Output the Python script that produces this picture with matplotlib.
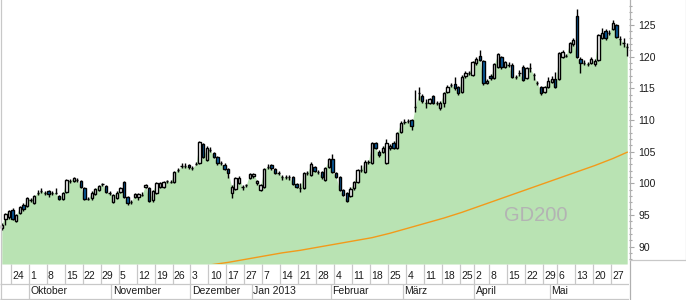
import numpy as np
import pandas as pd
import matplotlib
matplotlib.use('Agg')
import matplotlib.pyplot as plt
from matplotlib.lines import Line2D
from matplotlib.ticker import MultipleLocator

plt.rcParams['font.family'] = ['Liberation Sans', 'DejaVu Sans']

# ---------------- data ----------------
start_date = '2012-09-19'
end_date = '2013-05-31'
holidays = ['2012-12-24', '2012-12-25', '2012-12-26', '2012-12-31', '2013-01-01',
            '2013-03-29', '2013-04-01', '2013-05-01']

open_ = [92.9, 94.4, 94.7, 95.8, 94.0, 95.3, 96.6, 96.4, 97.4, 96.9,
         98.5, 98.8, 98.5, 98.8, 98.5, 98.5, 98.0, 97.5, 98.6, 100.4,
         100.4, 100.5, 100.4, 99.3, 97.5, 97.7, 98.3, 98.9, 99.9, 99.6,
         98.5, 97.0, 97.7, 98.6, 100.2, 97.8, 97.0, 97.8, 97.8, 98.1,
         99.4, 99.3, 97.4, 98.5, 99.4, 99.4, 100.4, 100.2, 100.2, 102.1,
         102.7, 102.7, 102.9, 102.4, 103.0, 103.2, 106.2, 103.7, 105.3, 104.8,
         104.1, 103.2, 102.9, 102.3, 98.5, 99.1, 100.0, 99.4, 99.7, 100.8,
         101.1, 100.0, 98.9, 99.4, 102.6, 102.9, 102.3, 101.6, 101.0, 101.0,
         101.0, 101.0, 99.9, 99.3, 99.3, 101.6, 101.3, 102.6, 101.8, 101.8,
         100.5, 102.6, 103.8, 101.6, 101.0, 98.9, 98.5, 98.0, 99.3, 100.2,
         102.1, 101.8, 103.4, 103.2, 106.4, 104.9, 104.9, 103.2, 105.6, 106.4,
         105.6, 108.1, 109.7, 109.8, 110.0, 112.0, 114.3, 113.8, 112.7, 112.7,
         113.8, 112.7, 111.9, 112.7, 114.4, 115.5, 115.7, 115.2, 114.4, 116.9,
         117.4, 117.1, 119.0, 120.1, 119.3, 115.8, 116.9, 116.6, 118.4, 119.9,
         118.4, 118.7, 118.7, 116.8, 117.4, 118.4, 116.6, 118.2, 117.1, 115.8,
         115.2, 114.4, 115.2, 116.0, 116.5, 116.5, 119.9, 120.1, 120.7, 122.0,
         126.4, 119.6, 119.0, 118.8, 119.0, 118.8, 119.5, 123.0, 124.1, 123.7,
         124.4, 125.0, 122.8, 122.2, 121.5]

high = [93.7, 95.3, 95.8, 96.1, 95.1, 96.4, 96.9, 97.8, 97.7, 98.1,
        98.9, 99.3, 98.8, 98.9, 98.8, 99.3, 98.1, 98.6, 100.7, 100.7,
        101.0, 100.8, 100.5, 99.4, 97.8, 98.8, 99.3, 99.7, 100.0, 99.7,
        98.8, 98.3, 98.8, 99.4, 100.4, 98.0, 97.4, 98.5, 98.5, 98.6,
        99.9, 99.4, 98.9, 100.2, 100.2, 100.4, 100.5, 100.5, 101.9, 102.4,
        103.2, 103.2, 103.0, 102.7, 103.4, 106.7, 106.4, 105.9, 105.7, 104.9,
        104.3, 103.5, 103.2, 102.4, 99.7, 101.0, 101.1, 99.7, 99.9, 101.6,
        101.6, 100.5, 99.9, 102.4, 103.0, 103.0, 102.4, 101.9, 101.3, 101.3,
        101.3, 101.1, 100.0, 100.0, 101.8, 101.9, 103.4, 102.7, 102.1, 101.9,
        102.6, 104.0, 104.6, 101.8, 101.1, 99.1, 98.6, 99.4, 100.4, 102.3,
        102.9, 103.7, 103.7, 106.5, 106.5, 105.3, 105.9, 107.0, 106.2, 106.7,
        108.1, 109.8, 110.2, 110.2, 110.2, 114.7, 115.2, 114.1, 113.3, 113.5,
        113.9, 113.0, 113.0, 114.4, 115.5, 115.8, 116.8, 115.4, 117.1, 117.7,
        117.7, 119.3, 120.0, 121.1, 119.5, 116.5, 117.3, 119.0, 120.6, 120.1,
        119.3, 119.2, 119.0, 117.1, 117.9, 118.7, 118.4, 119.0, 117.4, 116.2,
        115.4, 115.4, 116.8, 117.0, 117.6, 120.7, 121.1, 120.4, 122.3, 122.9,
        127.5, 119.9, 119.5, 119.2, 119.9, 119.6, 123.6, 124.5, 124.4, 124.2,
        125.8, 125.2, 123.3, 122.9, 122.2]

low = [92.6, 93.4, 94.4, 94.2, 93.9, 95.1, 95.6, 96.2, 97.0, 96.7,
       98.1, 98.5, 98.1, 97.8, 98.1, 98.3, 97.4, 97.4, 98.5, 100.0,
       100.2, 100.2, 99.3, 97.4, 97.4, 97.4, 98.1, 98.8, 99.6, 98.5,
       98.1, 96.9, 97.5, 98.5, 97.7, 96.6, 96.7, 97.7, 97.4, 98.0,
       99.3, 97.0, 97.0, 98.3, 99.3, 99.3, 100.0, 100.0, 100.0, 101.8,
       102.4, 102.4, 102.3, 102.1, 102.9, 103.0, 104.0, 103.5, 104.9, 104.0,
       102.9, 102.9, 102.1, 100.8, 97.7, 98.9, 99.9, 98.9, 99.4, 100.7,
       100.8, 99.7, 98.8, 99.3, 102.3, 102.1, 101.5, 101.3, 100.5, 100.7,
       100.5, 99.7, 99.3, 98.6, 99.1, 101.3, 101.1, 101.8, 101.5, 100.7,
       100.4, 102.4, 101.6, 100.8, 98.8, 98.0, 97.0, 97.8, 98.9, 100.0,
       101.8, 101.6, 103.0, 103.0, 105.4, 104.1, 104.8, 103.0, 105.3, 105.4,
       105.4, 107.9, 109.4, 109.5, 108.4, 111.3, 113.2, 112.7, 111.9, 112.5,
       112.5, 112.4, 111.6, 112.0, 114.3, 115.2, 114.7, 113.9, 114.3, 116.6,
       117.1, 116.9, 118.7, 119.3, 115.5, 115.7, 116.3, 116.5, 118.2, 118.1,
       118.2, 118.4, 116.6, 116.5, 116.9, 116.2, 116.5, 117.6, 116.3, 115.5,
       114.0, 114.3, 115.1, 115.8, 115.1, 116.3, 119.8, 119.9, 120.6, 121.7,
       119.8, 117.4, 118.7, 118.5, 118.8, 118.5, 119.3, 122.8, 122.6, 123.4,
       124.2, 123.0, 121.8, 121.5, 120.1]

close = [93.4, 95.1, 95.6, 94.4, 95.0, 96.2, 95.9, 97.7, 97.4, 98.0,
         98.5, 98.8, 98.5, 98.3, 98.5, 98.5, 97.5, 98.5, 100.5, 100.4,
         100.8, 100.5, 99.4, 97.5, 97.5, 98.5, 99.1, 99.6, 99.9, 98.6,
         98.5, 98.1, 98.5, 99.3, 97.8, 96.9, 97.0, 98.3, 98.3, 98.1,
         99.7, 97.2, 98.8, 100.0, 100.0, 100.2, 100.4, 100.2, 101.8, 102.1,
         102.7, 102.7, 102.6, 102.4, 103.0, 106.5, 104.1, 105.6, 105.3, 104.1,
         103.2, 103.2, 102.3, 101.6, 99.4, 100.8, 100.8, 99.4, 99.7, 101.5,
         101.5, 100.4, 99.7, 102.3, 102.6, 102.4, 101.6, 101.6, 101.0, 101.0,
         101.0, 99.9, 99.4, 99.3, 101.6, 101.6, 103.0, 101.9, 101.8, 101.0,
         102.4, 103.8, 101.8, 101.0, 98.9, 98.1, 97.2, 99.1, 100.2, 102.1,
         102.1, 103.4, 103.4, 106.4, 105.6, 104.5, 105.6, 106.4, 105.9, 105.6,
         107.9, 109.5, 109.7, 109.8, 109.0, 112.0, 114.3, 113.0, 112.7, 113.3,
         112.7, 112.7, 112.7, 114.3, 115.2, 115.5, 115.1, 114.3, 116.8, 117.4,
         117.4, 119.2, 119.6, 119.5, 115.8, 116.2, 116.6, 118.8, 120.4, 118.4,
         119.2, 118.7, 116.8, 116.8, 117.4, 116.3, 118.2, 118.2, 117.1, 115.8,
         114.3, 115.2, 116.2, 116.5, 115.2, 120.6, 120.7, 120.1, 122.2, 122.6,
         119.9, 119.0, 119.0, 118.8, 119.6, 119.3, 123.4, 123.7, 123.0, 123.7,
         125.3, 123.1, 122.8, 122.2, 121.5]

gd200_dates = ['2012-12-03', '2012-12-10', '2012-12-17', '2012-12-27', '2013-01-07',
               '2013-01-14', '2013-01-21', '2013-01-28', '2013-02-04', '2013-02-11',
               '2013-02-18', '2013-02-25', '2013-03-04', '2013-03-11', '2013-03-18',
               '2013-03-25', '2013-04-02', '2013-04-08', '2013-04-15', '2013-04-22',
               '2013-04-29', '2013-05-06', '2013-05-13', '2013-05-20', '2013-05-27',
               '2013-05-31']
gd200_values = [86.7, 87.1, 87.5, 88.0, 88.5, 89.0, 89.4, 89.9, 90.4, 90.9,
                91.4, 92.1, 92.9, 93.7, 94.5, 95.4, 96.2, 97.0, 98.0, 99.0,
                100.0, 100.8, 101.8, 102.8, 103.9, 104.9]

week_label_dates = ['2012-09-24', '2012-10-01', '2012-10-08', '2012-10-15', '2012-10-22',
                    '2012-10-29', '2012-11-05', '2012-11-12', '2012-11-19', '2012-11-26',
                    '2012-12-03', '2012-12-10', '2012-12-17', '2012-12-27', '2013-01-07',
                    '2013-01-14', '2013-01-21', '2013-01-28', '2013-02-04', '2013-02-11',
                    '2013-02-18', '2013-02-25', '2013-03-04', '2013-03-11', '2013-03-18',
                    '2013-03-25', '2013-04-02', '2013-04-08', '2013-04-15', '2013-04-22',
                    '2013-04-29', '2013-05-06', '2013-05-13', '2013-05-20', '2013-05-27']
month_dates = ['2012-10-01', '2012-11-01', '2012-12-03', '2013-01-02', '2013-02-01',
               '2013-03-01', '2013-04-02', '2013-05-02']
month_labels = ['Oktober', 'November', 'Dezember', 'Jan 2013', 'Februar', 'März', 'April', 'Mai']
y_ticks = [90, 95, 100, 105, 110, 115, 120, 125]

# ---------------- calendar ----------------
days = pd.bdate_range(start_date, end_date)
days = days[~days.isin(pd.to_datetime(holidays))]
n = min(len(days), len(close))
days = days[:n]
pos = {d: i for i, d in enumerate(days)}
def idx(s):
    return pos[pd.Timestamp(s)]

o = np.array(open_[:n]); h = np.array(high[:n]); l = np.array(low[:n]); c = np.array(close[:n])
x = np.arange(n)

# ---------------- figure ----------------
W, H = 686, 300
fig = plt.figure(figsize=(W / 100, H / 100), dpi=100)
fig.patch.set_facecolor('white')

plot_right = 629
plot_bottom = 264
ax = fig.add_axes([0, (H - plot_bottom) / H, plot_right / W, plot_bottom / H])
ymin, ymax = 87.24, 128.95
ax.set_xlim(-0.5, n - 0.5)
ax.set_ylim(ymin, ymax)

green = '#b9e3b3'
blue = '#0a60a6'
grid_gray = '#c8c8c8'

ax.fill_between(x, c, ymin, color=green, linewidth=0, zorder=1)

gx = [idx(d) for d in gd200_dates]
ax.plot(gx, gd200_values, color='#f29a1a', lw=1.0, zorder=1.5)

ax.vlines(x, l, h, color='black', lw=1.0, zorder=2)
up = c >= o
body_bottom = np.minimum(o, c)
body_h = np.maximum(np.abs(c - o), 0.02)
colors = np.where(up, 'white', blue)
ax.bar(x, body_h, bottom=body_bottom, width=0.64, color=colors,
       edgecolor='black', linewidth=1.0, zorder=3)

ax.text(0.852, 0.182, 'GD200', transform=ax.transAxes, ha='center', va='center',
        fontsize=14.5, color='#b3b3b3')

# y axis on the right
ax.yaxis.tick_right()
ax.set_yticks(y_ticks)
ax.yaxis.set_minor_locator(MultipleLocator(1))
ax.tick_params(axis='y', which='major', length=3.8, width=0.8, color='#a8a8a8',
               pad=3.0, labelsize=7.5, labelcolor='#1c1c1c')
ax.tick_params(axis='y', which='minor', length=2.2, width=0.8, color='#a8a8a8')
ax.set_xticks([])
for s in ['top', 'bottom', 'left', 'right']:
    ax.spines[s].set_visible(False)

# ---------------- date rows ----------------
axb = fig.add_axes([0, 0, plot_right / W, (H - plot_bottom) / H])
axb.set_xlim(-0.5, n - 0.5)
axb.set_ylim(H, plot_bottom)
axb.axis('off')

row_mid = 283.5
bottom_line = 298.5
axb.hlines([row_mid, bottom_line], -0.5, n - 0.5, color=grid_gray, lw=0.9)
for d in week_label_dates:
    i = idx(d)
    axb.vlines(i - 0.5, plot_bottom, row_mid, color=grid_gray, lw=0.9)
    axb.text(i - 0.5 + 0.35, 276.3, str(pd.Timestamp(d).day), ha='left', va='center',
             fontsize=7.5, color='#1c1c1c')
for d, lab in zip(month_dates, month_labels):
    i = idx(d)
    axb.vlines(i - 0.5, row_mid, bottom_line, color=grid_gray, lw=0.9)
    axb.text(i - 0.5 + 0.45, 291.2, lab, ha='left', va='center',
             fontsize=7.5, color='#1c1c1c')

# frame lines in pixel coordinates
def fline(x0, y0, x1, y1, color=grid_gray, lw=0.9):
    fig.add_artist(Line2D([x0 / W, x1 / W], [1 - y0 / H, 1 - y1 / H],
                          transform=fig.transFigure, color=color, lw=lw))

fline(0.5, 0, 0.5, 298.5)                          # left border
fline(plot_right + 0.5, 0, plot_right + 0.5, 298.5, color='#b0b0b0')  # axis line
fline(plot_right + 0.5, 259.5, W, 259.5)           # right panel bottom
fline(W - 0.5, 0, W - 0.5, 259.5)                  # right panel edge

fig.savefig('out.png', dpi=100, facecolor='white')
